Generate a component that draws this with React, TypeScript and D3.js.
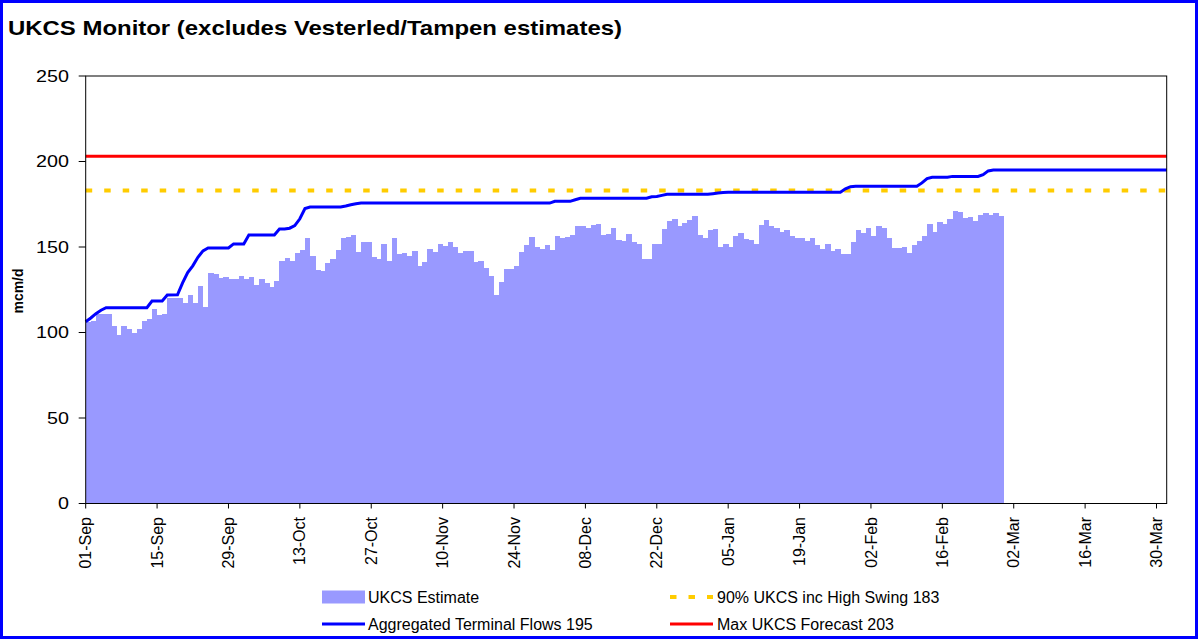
import React from "react";
import * as d3 from "d3";

// ---------- DATA ----------
const startDate = new Date(Date.UTC(2006, 8, 1)); // 01-Sep
const endDate = new Date(Date.UTC(2007, 3, 1)); // 01-Apr (axis end)

// UKCS Estimate, one value per day from 01-Sep
const estimateValues = [
  106, 107, 111, 111, 111, 104, 98.5, 104, 102, 100,
  102, 107, 108, 114, 110, 111, 120, 120, 120, 117,
  122, 117, 127, 115, 135, 134, 132, 132.5, 131, 131,
  133, 131, 132.5, 128, 131, 129, 126.5, 130, 142, 143.5,
  142, 146.5, 148, 155, 145, 136.5, 136, 140.5, 143, 148,
  155, 156, 157, 147, 153, 153, 144, 143, 152, 142,
  155, 146, 146.5, 145, 147.5, 139, 141, 149, 147, 152,
  150.5, 153, 150, 146.5, 147.5, 147.5, 141, 142, 138, 133,
  122, 129.5, 137, 137, 139, 147, 151, 156, 150, 149,
  151, 148, 156.5, 155, 156, 157, 162, 162, 161, 163,
  163.5, 157, 157.5, 161, 154, 153.5, 157.5, 153, 152, 143,
  143, 152, 152, 160.5, 165, 166.5, 162, 164, 166, 168,
  157, 155, 160, 160.5, 150, 152, 150, 156.5, 158, 154.5,
  154, 152, 163, 166, 162, 161, 159, 160, 156.5, 155,
  155, 153.5, 155, 151, 149, 152, 147.5, 149, 146, 146,
  153, 160, 158, 161, 156.5, 162, 161, 155, 149.5, 149.5,
  150, 146.5, 151, 153.5, 156.5, 163.5, 159, 164.5, 163.5, 166.5,
  171, 170.5, 167, 167.5, 165, 168.5, 170, 168.5, 170, 168,
];

// Aggregated Terminal Flows: day offset from 01-Sep and value at that day
const flowDays = [
  0, 1, 2, 3, 4, 12, 13, 15, 16, 18, 19, 20, 21, 22, 23, 24, 28, 29, 31, 32,
  37, 38, 39, 40, 41, 42, 43, 44, 50, 51, 52, 53, 54, 91, 92, 95, 96, 97, 110, 111,
  112, 113, 114, 122, 123, 124, 125, 126, 148, 149, 150, 151, 163, 164, 165, 166, 169, 170, 175, 176,
  177, 178, 212,
];
const flowValues = [
  106.3, 108.5, 111, 113, 114.5, 114.5, 118.4, 118.4, 121.9, 122, 129, 135, 139, 144, 147.7, 149.4, 149.4, 151.8, 151.8, 157,
  157, 160.5, 160.5, 161, 162.5, 166.5, 172.5, 173.4, 173.4, 174, 174.7, 175.3, 175.7, 175.7, 176.7, 176.7, 177.6, 178.5, 178.5, 179.4,
  179.5, 180.2, 180.8, 180.8, 181.2, 181.6, 181.9, 182, 182, 184, 185.3, 185.5, 185.5, 187.5, 190, 190.8, 190.8, 191.3, 191.3, 192.3,
  194.5, 195, 195,
];

const swing90Value = 183;
const maxForecastValue = 203;

const yTickValues = [0, 50, 100, 150, 200, 250];
const xTickLabels = [
  "01-Sep", "15-Sep", "29-Sep", "13-Oct", "27-Oct", "10-Nov", "24-Nov", "08-Dec",
  "22-Dec", "05-Jan", "19-Jan", "02-Feb", "16-Feb", "02-Mar", "16-Mar", "30-Mar",
];
const xTickStepDays = 14;

const titleText = "UKCS Monitor (excludes Vesterled/Tampen estimates)";
const yAxisTitle = "mcm/d";
const legendLabels = [
  "UKCS Estimate",
  "90% UKCS inc High Swing 183",
  "Aggregated Terminal Flows 195",
  "Max UKCS Forecast 203",
];

// ---------- LAYOUT ----------
const W = 1198;
const H = 639;
const plot = { left: 85.7, right: 1166.7, top: 76, bottom: 503.5 };
const FONT = "'Liberation Sans', Arial, Helvetica, sans-serif";
const BAR_COLOR = "#9999FF";
const BLUE = "#0000FF";
const RED = "#FF0000";
const YELLOW = "#FFCC00";

export default function App() {
  const x = d3.scaleUtc().domain([startDate, endDate]).range([plot.left, plot.right]);
  const y = d3.scaleLinear().domain([0, 250]).range([plot.bottom, plot.top]);

  const bars = estimateValues.map((v, i) => {
    const d0 = d3.utcDay.offset(startDate, i);
    const d1 = d3.utcDay.offset(startDate, i + 1);
    return { x0: x(d0), x1: x(d1), v };
  });

  const flowPts: [number, number][] = flowDays.map((d, i) => [
    x(d3.utcDay.offset(startDate, d)),
    y(flowValues[i]),
  ]);
  const line = d3.line();
  const flowPath = line(flowPts) || "";

  const xTicks = xTickLabels.map((lab, k) => ({
    lab,
    px: x(d3.utcDay.offset(startDate, k * xTickStepDays)),
  }));

  const legRow1 = 597;
  const legRow2 = 624;
  const legX1 = 322;
  const legX2 = 670;
  const swatchW = 43;

  return (
    <div style={{ position: "fixed", left: 0, top: 0, width: W, height: H, background: "#fff" }}>
      <svg width={W} height={H} style={{ display: "block", fontFamily: FONT }}>
        <rect x={0} y={0} width={W} height={H} fill="#fff" />
        <rect x={1.5} y={1.5} width={W - 3} height={H - 3} fill="none" stroke={BLUE} strokeWidth={3} />

        <text
          x={8}
          y={35}
          fontSize={21}
          fontWeight="bold"
          textLength={614}
          lengthAdjust="spacingAndGlyphs"
          fill="#000"
        >
          {titleText}
        </text>

        {/* bars */}
        <g shapeRendering="crispEdges">
          {bars.map((b, i) => (
            <rect
              key={i}
              x={b.x0}
              y={y(b.v)}
              width={b.x1 - b.x0 + 0.4}
              height={plot.bottom - y(b.v)}
              fill={BAR_COLOR}
            />
          ))}
        </g>

        {/* reference lines */}
        <line
          x1={plot.left}
          x2={plot.right}
          y1={y(swing90Value)}
          y2={y(swing90Value)}
          stroke={YELLOW}
          strokeWidth={4}
          strokeDasharray="6.5 12"
        />
        <path d={flowPath} fill="none" stroke={BLUE} strokeWidth={3} strokeLinejoin="miter" />
        <line
          x1={plot.left}
          x2={plot.right}
          y1={y(maxForecastValue)}
          y2={y(maxForecastValue)}
          stroke={RED}
          strokeWidth={3}
        />

        {/* plot frame */}
        <rect
          x={plot.left}
          y={plot.top}
          width={plot.right - plot.left}
          height={plot.bottom - plot.top}
          fill="none"
          stroke="#000"
          strokeWidth={1}
        />

        {/* y axis */}
        {yTickValues.map((v) => (
          <g key={v}>
            <line x1={plot.left - 7} x2={plot.left} y1={y(v)} y2={y(v)} stroke="#000" strokeWidth={1} />
            <text
              transform={`translate(69,${y(v)}) scale(1.16,1)`}
              textAnchor="end"
              dy="0.35em"
              fontSize={17}
              fill="#000"
            >
              {v}
            </text>
          </g>
        ))}
        <text
          transform={`translate(23,291) rotate(-90)`}
          textAnchor="middle"
          fontSize={14}
          fontWeight="bold"
          fill="#000"
        >
          {yAxisTitle}
        </text>

        {/* x axis */}
        {xTicks.map((t) => (
          <g key={t.lab}>
            <line x1={t.px} x2={t.px} y1={plot.bottom} y2={plot.bottom + 5} stroke="#000" strokeWidth={1} />
            <text
              transform={`translate(${t.px},517) rotate(-90)`}
              textAnchor="end"
              dy="0.35em"
              fontSize={16}
              fill="#000"
            >
              {t.lab}
            </text>
          </g>
        ))}

        {/* legend */}
        <rect x={legX1} y={legRow1 - 6.5} width={swatchW} height={13} fill={BAR_COLOR} />
        <text x={legX1 + 46} y={legRow1} dy="0.35em" fontSize={16} fill="#000">
          {legendLabels[0]}
        </text>
        <line
          x1={legX2}
          x2={legX2 + swatchW}
          y1={legRow1}
          y2={legRow1}
          stroke={YELLOW}
          strokeWidth={4}
          strokeDasharray="6.5 12"
        />
        <text x={legX2 + 47} y={legRow1} dy="0.35em" fontSize={16} fill="#000">
          {legendLabels[1]}
        </text>
        <line x1={legX1} x2={legX1 + swatchW} y1={legRow2} y2={legRow2} stroke={BLUE} strokeWidth={3} />
        <text x={legX1 + 46} y={legRow2} dy="0.35em" fontSize={16} fill="#000">
          {legendLabels[2]}
        </text>
        <line x1={legX2} x2={legX2 + swatchW} y1={legRow2} y2={legRow2} stroke={RED} strokeWidth={3} />
        <text x={legX2 + 47} y={legRow2} dy="0.35em" fontSize={16} fill="#000">
          {legendLabels[3]}
        </text>
      </svg>
    </div>
  );
}
